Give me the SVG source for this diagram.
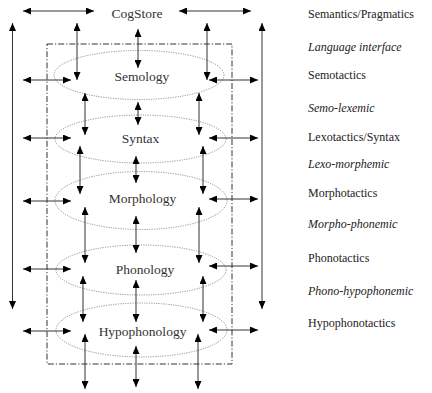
<svg xmlns="http://www.w3.org/2000/svg" width="432" height="393" viewBox="0 0 432 393">
<style>
.lbl{font-family:"Liberation Serif","Times New Roman",serif;font-size:13.5px;fill:#333;text-anchor:middle}
.side{font-family:"Liberation Serif","Times New Roman",serif;font-size:12px;fill:#222}
.it{font-style:italic}
.ell{fill:none;stroke:#777;stroke-width:0.8;stroke-dasharray:1.2 1.2}
.box{fill:none;stroke:#333;stroke-width:1;stroke-dasharray:6 2 1.2 2}
.c line{stroke:#333;stroke-width:1;marker-start:url(#ah);marker-end:url(#ah)}
</style>
<defs>
<marker id="ah" markerUnits="userSpaceOnUse" markerWidth="8" markerHeight="7" refX="8" refY="3.5" orient="auto-start-reverse">
<path d="M0,0 L8,3.5 L0,7 z" fill="#000"/>
</marker>
</defs>
<rect width="432" height="393" fill="#fff"/>
<g id="boundary"><rect class="box" x="47" y="44" width="185" height="320"/></g>
<g id="cogstore"><text class="lbl" x="137" y="18">CogStore</text></g>
<g id="semology"><ellipse class="ell" cx="139" cy="75" rx="85" ry="24.5"/><text class="lbl" x="142" y="81">Semology</text></g>
<g id="syntax"><ellipse class="ell" cx="140.5" cy="139" rx="85.5" ry="24"/><text class="lbl" x="140.5" y="143">Syntax</text></g>
<g id="morphology"><ellipse class="ell" cx="141" cy="200.5" rx="86" ry="29"/><text class="lbl" x="142.5" y="203">Morphology</text></g>
<g id="phonology"><ellipse class="ell" cx="141" cy="270" rx="85" ry="25"/><text class="lbl" x="145" y="274">Phonology</text></g>
<g id="hypophonology"><ellipse class="ell" cx="141.5" cy="330" rx="85.5" ry="27"/><text class="lbl" x="142.5" y="336">Hypophonology</text></g>
<g id="levels">
<text class="side" x="308" y="18">Semantics/Pragmatics</text>
<text class="side it" x="308" y="51">Language interface</text>
<text class="side" x="308" y="79">Semotactics</text>
<text class="side it" x="308" y="112">Semo-lexemic</text>
<text class="side" x="308" y="141">Lexotactics/Syntax</text>
<text class="side it" x="308" y="168">Lexo-morphemic</text>
<text class="side" x="308" y="197">Morphotactics</text>
<text class="side it" x="308" y="228">Morpho-phonemic</text>
<text class="side" x="308" y="262">Phonotactics</text>
<text class="side it" x="308" y="295">Phono-hypophonemic</text>
<text class="side" x="308" y="327">Hypophonotactics</text>
</g>
<g id="connectors" class="c">
<line x1="23" y1="11" x2="94" y2="11"/>
<line x1="179" y1="11" x2="251" y2="11"/>
<line x1="12.5" y1="23" x2="12.5" y2="309"/>
<line x1="262" y1="23" x2="262" y2="309"/>
<line x1="77" y1="23" x2="77" y2="80"/>
<line x1="138" y1="29" x2="138" y2="68"/>
<line x1="207" y1="23" x2="207" y2="80"/>
<line x1="23" y1="80" x2="71" y2="80"/>
<line x1="209" y1="80" x2="258" y2="80"/>
<line x1="85" y1="93" x2="85" y2="135"/>
<line x1="138" y1="102" x2="138" y2="125"/>
<line x1="199" y1="93" x2="199" y2="135"/>
<line x1="23" y1="138" x2="71" y2="138"/>
<line x1="209" y1="138" x2="258" y2="138"/>
<line x1="80" y1="146" x2="80" y2="194"/>
<line x1="136" y1="156" x2="136" y2="183"/>
<line x1="203" y1="146" x2="203" y2="194"/>
<line x1="23" y1="201" x2="71" y2="201"/>
<line x1="209" y1="199" x2="258" y2="199"/>
<line x1="85" y1="207" x2="85" y2="263"/>
<line x1="136" y1="216" x2="136" y2="253"/>
<line x1="199" y1="207" x2="199" y2="263"/>
<line x1="23" y1="269" x2="71" y2="269"/>
<line x1="209" y1="266" x2="258" y2="266"/>
<line x1="83" y1="276" x2="83" y2="322"/>
<line x1="136" y1="280" x2="136" y2="322"/>
<line x1="203" y1="276" x2="203" y2="322"/>
<line x1="23" y1="331" x2="71" y2="331"/>
<line x1="209" y1="330" x2="258" y2="330"/>
<line x1="85" y1="334" x2="85" y2="389"/>
<line x1="136" y1="346" x2="136" y2="387"/>
<line x1="198" y1="334" x2="198" y2="389"/>
</g>
</svg>
